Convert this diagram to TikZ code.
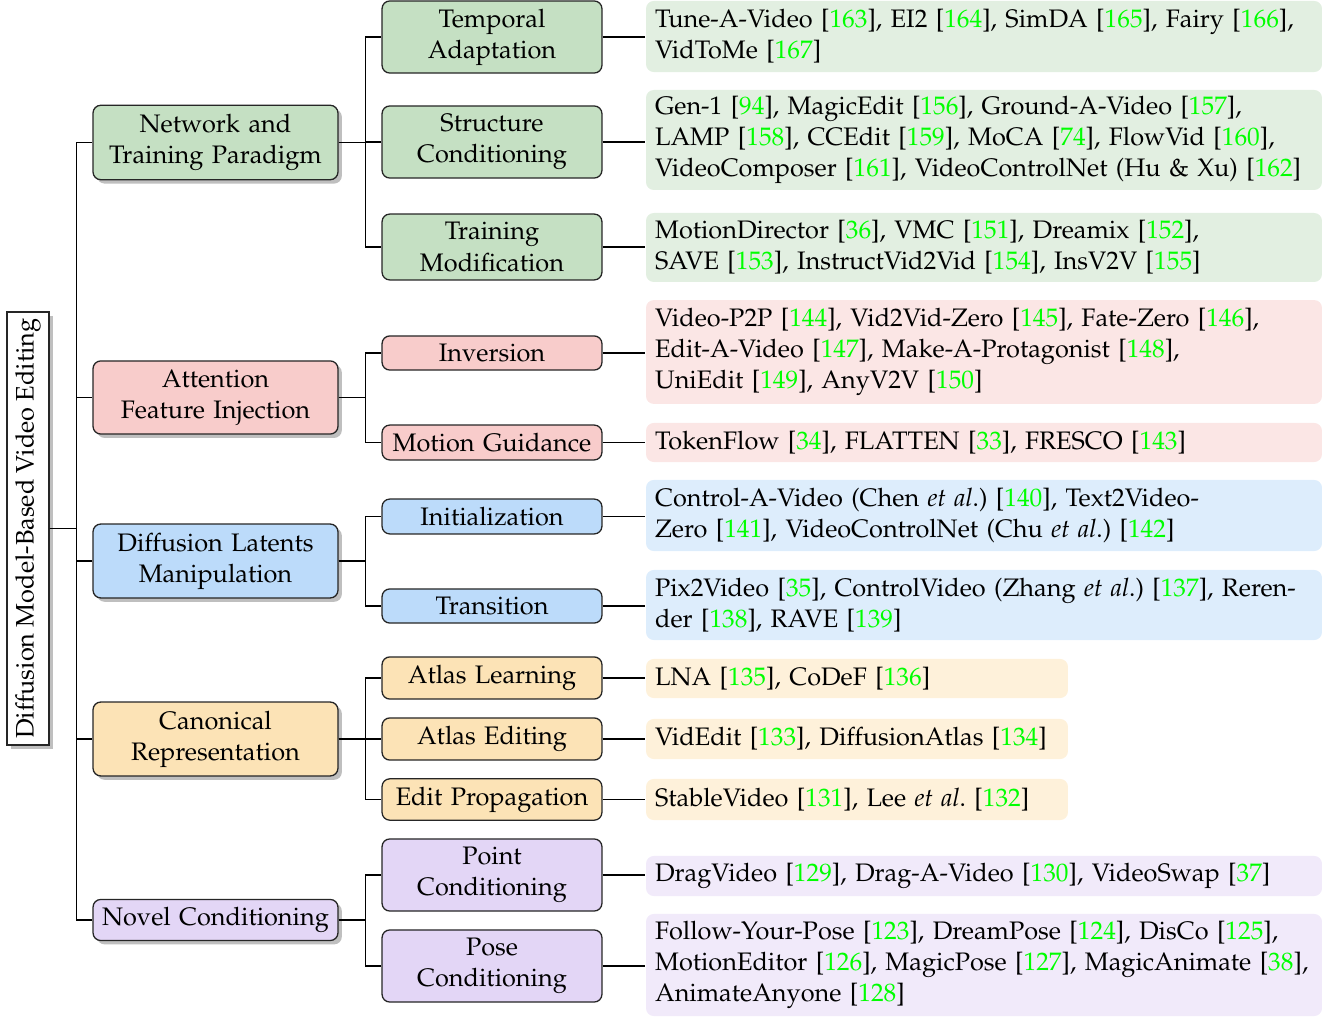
\documentclass[tikz,border=0pt]{standalone}
\usepackage[T1]{fontenc}
\usepackage{mathpazo}
\usepackage{xcolor}
\usepackage{tikz}
\usetikzlibrary{shadows, positioning}

\definecolor{netgreen}{HTML}{C5E0C3}
\definecolor{attred}{HTML}{F8CCCB}
\definecolor{latblue}{HTML}{BCDBFA}
\definecolor{canorange}{HTML}{FCE3B6}
\definecolor{novpurple}{HTML}{E3D6F6}
\definecolor{citegreen}{rgb}{0,1,0}

\newcommand{\rf}[1]{[\textcolor{citegreen}{#1}]}
\newcommand{\etal}{{\itshape et al}}

\begin{document}
\begin{tikzpicture}[x=0.387pt, y=-0.387pt, line width=0.5pt,
    font=\fontsize{9.8pt}{12pt}\selectfont\frenchspacing,
    boxshadow/.style={drop shadow={shadow xshift=1.5pt, shadow yshift=-1.5pt, fill=black!25, opacity=1}},
    rootbox/.style={draw=black!85, fill=white, rotate=90, minimum width=167.6pt, minimum height=16.3pt, inner sep=0pt, boxshadow},
    catbox/.style={draw=black!85, fill=#1, rounded corners=3pt, text width=90.8pt, inner xsep=2pt, inner ysep=1pt, align=center, boxshadow},
    subbox/.style={draw=black!85, fill=#1, rounded corners=3pt, text width=81.1pt, inner xsep=2pt, inner ysep=1pt, align=center},
    leafbox/.style={fill=#1!50!white, rounded corners=3pt, text width=254.6pt, inner xsep=3.5pt, inner ysep=1pt, align=left},
    narrow/.style={text width=156.3pt}]

    \useasboundingbox (0,0) rectangle (1337,1017);

    % root
    \node[rootbox] (root) at (28,528.5) {Diffusion Model-Based Video Editing};

    % first level
    \node[catbox=netgreen, minimum height=28.8pt] (net) at (215.5,142.5) {Network and\\Training Paradigm};
    \node[catbox=attred, minimum height=28.3pt] (att) at (215.5,397.5) {Attention\\Feature Injection};
    \node[catbox=latblue, minimum height=28.6pt] (lat) at (215.5,561) {Diffusion Latents\\Manipulation};
    \node[catbox=canorange, minimum height=28.6pt] (can) at (215.5,739) {Canonical\\Representation};
    \node[catbox=novpurple, minimum height=15.9pt] (nov) at (215.5,920) {Novel Conditioning};

    % second level
    \node[subbox=netgreen, minimum height=27.9pt] (tem) at (492,37) {Temporal\\Adaptation};
    \node[subbox=netgreen, minimum height=27.9pt] (str) at (492,142) {Structure\\Conditioning};
    \node[subbox=netgreen, minimum height=25.5pt] (tra) at (492,247) {Training\\Modification};
    \node[subbox=attred, minimum height=13.2pt] (inv) at (492,353) {Inversion};
    \node[subbox=attred, minimum height=13.5pt] (mot) at (492,442.5) {Motion Guidance};
    \node[subbox=latblue, minimum height=13.5pt] (ini) at (492,516.5) {Initialization};
    \node[subbox=latblue, minimum height=13.2pt] (trn) at (492,606) {Transition};
    \node[subbox=canorange, minimum height=16.3pt] (atl) at (492,678) {Atlas Learning};
    \node[subbox=canorange, minimum height=16.3pt] (ate) at (492,739) {Atlas Editing};
    \node[subbox=canorange, minimum height=16pt] (edp) at (492,799.5) {Edit Propagation};
    \node[subbox=novpurple, minimum height=27.9pt] (pnt) at (492,875) {Point\\Conditioning};
    \node[subbox=novpurple, minimum height=27.9pt] (pos) at (492,966) {Pose\\Conditioning};

    % leaves
    \node[leafbox=netgreen, minimum height=27.5pt] (ltem) at (984,36.5) {Tune-A-Video \rf{163}, EI2 \rf{164}, SimDA \rf{165}, Fairy \rf{166},\\VidToMe \rf{167}};
    \node[leafbox=netgreen, minimum height=38.7pt] (lstr) at (984,140) {Gen-1 \rf{94}, MagicEdit \rf{156}, Ground-A-Video \rf{157},\\LAMP \rf{158}, CCEdit \rf{159}, MoCA \rf{74}, FlowVid \rf{160},\\VideoComposer \rf{161}, VideoControlNet (Hu \& Xu) \rf{162}};
    \node[leafbox=netgreen, minimum height=26.7pt] (ltra) at (984,247.5) {MotionDirector \rf{36}, VMC \rf{151}, Dreamix \rf{152},\\SAVE \rf{153}, InstructVid2Vid \rf{154}, InsV2V \rf{155}};
    \node[leafbox=attred, minimum height=40.2pt] (linv) at (984,352) {Video-P2P \rf{144}, Vid2Vid-Zero \rf{145}, Fate-Zero \rf{146},\\Edit-A-Video \rf{147}, Make-A-Protagonist \rf{148},\\UniEdit \rf{149}, AnyV2V \rf{150}};
    \node[leafbox=attred, minimum height=15.1pt] (lmot) at (984,442.5) {TokenFlow \rf{34}, FLATTEN \rf{33}, FRESCO \rf{143}};
    \node[leafbox=latblue, minimum height=27.5pt] (lini) at (984,515.5) {Control-A-Video (Chen \etal.) \rf{140}, Text2Video-\\Zero \rf{141}, VideoControlNet (Chu \etal.) \rf{142}};
    \node[leafbox=latblue, minimum height=27.1pt] (ltrn) at (984,605) {Pix2Video \rf{35}, ControlVideo (Zhang \etal.) \rf{137}, Reren-\\der \rf{138}, RAVE \rf{139}};
    \node[leafbox=canorange, narrow, minimum height=15.1pt] (latl) at (857,678.5) {LNA \rf{135}, CoDeF \rf{136}};
    \node[leafbox=canorange, narrow, minimum height=15.5pt] (late) at (857,739) {VidEdit \rf{133}, DiffusionAtlas \rf{134}};
    \node[leafbox=canorange, narrow, minimum height=15.9pt] (ledp) at (857,799.5) {StableVideo \rf{131}, Lee \etal. \rf{132}};
    \node[leafbox=novpurple, minimum height=15.5pt] (lpnt) at (984,876) {DragVideo \rf{129}, Drag-A-Video \rf{130}, VideoSwap \rf{37}};
    \node[leafbox=novpurple, minimum height=39.5pt] (lpos) at (984,965) {Follow-Your-Pose \rf{123}, DreamPose \rf{124}, DisCo \rf{125},\\MotionEditor \rf{126}, MagicPose \rf{127}, MagicAnimate \rf{38},\\AnimateAnyone \rf{128}};

    % forks
    \foreach \c in {net,att,lat,can,nov}
        \draw (root.south) -- ++(27,0) |- (\c.west);
    \foreach \c in {tem,str,tra}
        \draw (net.east) -- ++(27,0) |- (\c.west);
    \foreach \c in {inv,mot}
        \draw (att.east) -- ++(27,0) |- (\c.west);
    \foreach \c in {ini,trn}
        \draw (lat.east) -- ++(27,0) |- (\c.west);
    \foreach \c in {atl,ate,edp}
        \draw (can.east) -- ++(27,0) |- (\c.west);
    \foreach \c in {pnt,pos}
        \draw (nov.east) -- ++(27,0) |- (\c.west);

    % second level to leaves
    \foreach \a in {tem,str,tra,inv,mot,ini,trn,atl,ate,edp,pnt,pos}
        \draw (\a.east) -- (\a.east -| l\a.west);
\end{tikzpicture}
\end{document}
